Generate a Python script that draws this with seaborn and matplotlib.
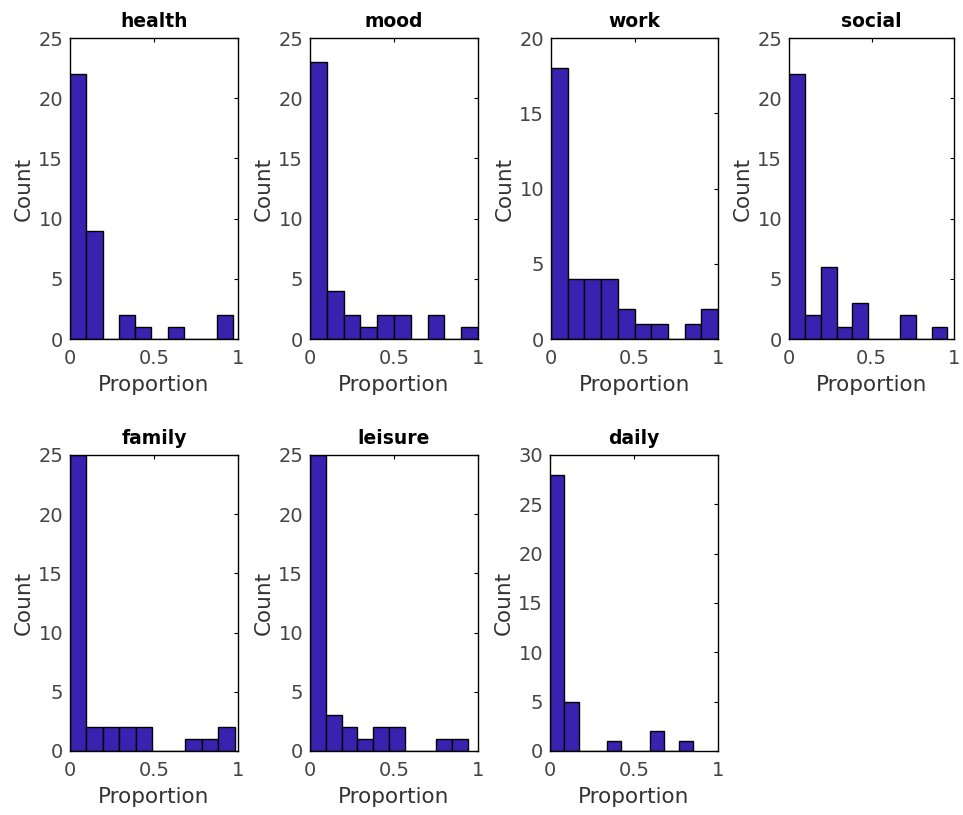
import numpy as np
import pandas as pd
import matplotlib
matplotlib.use("Agg")
import matplotlib.pyplot as plt
import seaborn as sns

sns.set_style("white")
plt.rcParams["font.family"] = ["DejaVu Sans"]

# ---- data ----
categories = ["health", "mood", "work", "social", "family", "leisure", "daily"]

health_counts = [22, 9, 0, 2, 1, 0, 1, 0, 0, 2]
mood_counts = [23, 4, 2, 1, 2, 2, 0, 2, 0, 1]
work_counts = [18, 4, 4, 4, 2, 1, 1, 0, 1, 2]
social_counts = [22, 2, 6, 1, 3, 0, 0, 2, 0, 1]
family_counts = [25, 2, 2, 2, 2, 0, 0, 1, 1, 2]
leisure_counts = [25, 3, 2, 1, 2, 2, 0, 0, 1, 1]
daily_counts = [28, 5, 0, 0, 1, 0, 0, 2, 0, 1]

# data range (min, max) of each category -> 10 equal bins
health_range = (0.0, 0.97)
mood_range = (0.0, 1.0)
work_range = (0.0, 1.0)
social_range = (0.0, 0.96)
family_range = (0.0, 0.98)
leisure_range = (0.0, 0.94)
daily_range = (0.0, 0.85)

y_max = [25, 25, 20, 25, 25, 25, 30]
x_ticks = [0, 0.5, 1]
x_tick_labels = ["0", "0.5", "1"]

counts_all = [health_counts, mood_counts, work_counts, social_counts,
              family_counts, leisure_counts, daily_counts]
ranges_all = [health_range, mood_range, work_range, social_range,
              family_range, leisure_range, daily_range]

# ---- layout ----
W, H = 963, 815
fig = plt.figure(figsize=(W / 100, H / 100), dpi=100)

def px_axes(x0, x1, y0, y1):
    return fig.add_axes([x0 / W, 1 - y1 / H, (x1 - x0) / W, (y1 - y0) / H])

boxes = [
    (70, 238, 38, 339), (310, 478, 38, 339), (551, 718, 38, 339), (789, 954, 38, 339),
    (70, 238, 455, 751), (310, 478, 455, 751), (550, 718, 455, 751),
]

bar_color = "#3a22b0"
text_color = "#333333"
tick_color = "#444444"

for name, cnts, rng, ymax, box in zip(categories, counts_all, ranges_all, y_max, boxes):
    ax = px_axes(*box)
    edges = np.linspace(rng[0], rng[1], len(cnts) + 1).tolist()
    centers = [(a + b) / 2 for a, b in zip(edges[:-1], edges[1:])]
    df = pd.DataFrame({"Proportion": centers, "n": cnts})
    sns.histplot(data=df, x="Proportion", weights="n", bins=edges, ax=ax,
                 color=bar_color, edgecolor="black", linewidth=1.0, alpha=1.0)
    ax.set_xlim(0, 1)
    ax.set_ylim(0, ymax)
    ax.set_xticks(x_ticks)
    ax.set_xticklabels(x_tick_labels)
    ax.set_yticks(np.arange(0, ymax + 1, 5))
    ax.tick_params(axis="both", direction="in", length=3, width=0.8,
                   top=True, right=True, labelsize=14, colors="black")
    ax.tick_params(axis="x", pad=7)
    ax.tick_params(axis="y", pad=5)
    ax.tick_params(axis="both", labelcolor=tick_color)
    for s in ax.spines.values():
        s.set_visible(True)
        s.set_color("black")
        s.set_linewidth(1.0)
    ax.set_title(name, fontsize=13.5, fontweight="bold", color="black", pad=8)
    ax.set_xlabel("Proportion", fontsize=15.5, color=text_color, labelpad=5)
    ax.set_ylabel("Count", fontsize=15.5, color=text_color, labelpad=3)

fig.savefig("out.png", dpi=100)
